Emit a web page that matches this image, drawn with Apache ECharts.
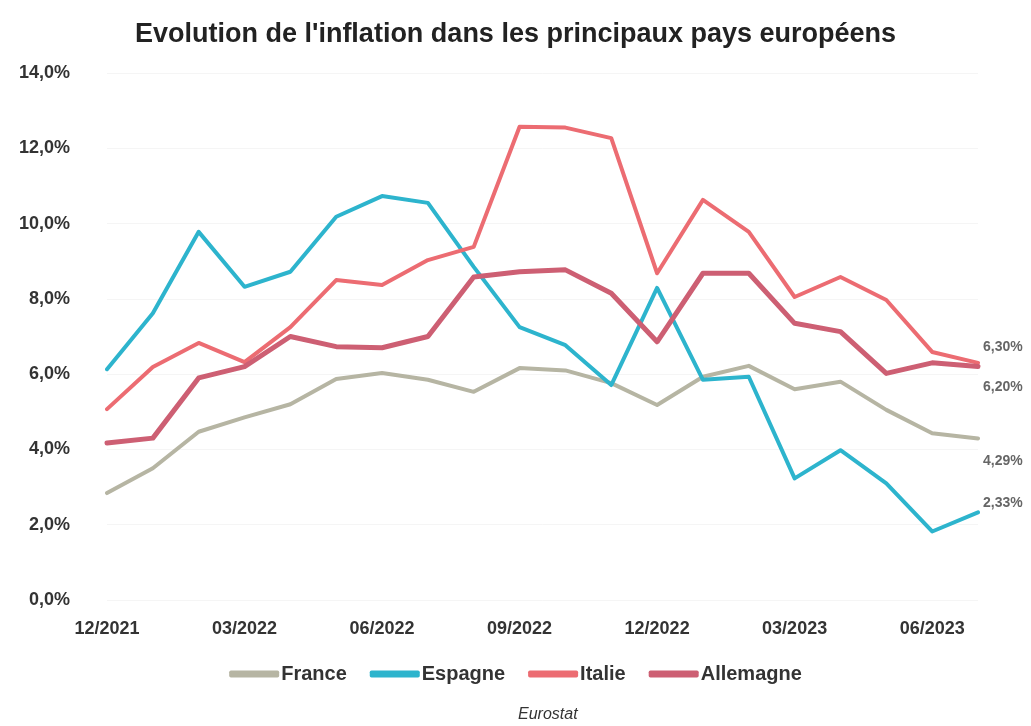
<!DOCTYPE html>
<html>
<head>
<meta charset="utf-8">
<script src="https://cdn.jsdelivr.net/npm/echarts@6/dist/echarts.min.js"></script>
<style>
html,body{margin:0;padding:0;background:#fff;}
#chart{width:1031px;height:726px;}
</style>
</head>
<body>
<div id="chart"></div>
<script>
const months = ['12/2021','01/2022','02/2022','03/2022','04/2022','05/2022','06/2022','07/2022','08/2022','09/2022','10/2022','11/2022','12/2022','01/2023','02/2023','03/2023','04/2023','05/2023','06/2023','07/2023'];
const france = [2.84, 3.5, 4.47, 4.85, 5.2, 5.87, 6.03, 5.85, 5.53, 6.16, 6.1, 5.76, 5.18, 5.93, 6.22, 5.6, 5.8, 5.05, 4.43, 4.29];
const espagne = [6.13, 7.62, 9.78, 8.32, 8.72, 10.18, 10.73, 10.55, 8.85, 7.25, 6.77, 5.71, 8.29, 5.85, 5.93, 3.23, 3.98, 3.1, 1.82, 2.33];
const italie = [5.07, 6.19, 6.83, 6.32, 7.25, 8.5, 8.37, 9.03, 9.38, 12.57, 12.55, 12.27, 8.68, 10.63, 9.78, 8.05, 8.58, 7.97, 6.59, 6.3];
const allemagne = [4.17, 4.3, 5.9, 6.2, 7.0, 6.73, 6.7, 7.0, 8.58, 8.72, 8.77, 8.15, 6.86, 8.68, 8.68, 7.35, 7.13, 6.02, 6.3, 6.2];
const yTicks = [0, 2, 4, 6, 8, 10, 12, 14];

const fmt = v => v.toFixed(2).replace('.', ',') + '%';
function mk(name, data, color, width, offY) {
  return {
    name, type: 'line', data, symbol: 'none', showSymbol: false,
    lineStyle: { color, width, cap: 'round', join: 'round' },
    itemStyle: { color },
    endLabel: {
      show: true, distance: 5, offset: [0, offY],
      formatter: p => fmt(p.value),
      fontFamily: 'Liberation Sans', fontWeight: 'bold', fontSize: 14, color: '#666'
    },
    emphasis: { disabled: true }, z: 2
  };
}
const chart = echarts.init(document.getElementById('chart'));
chart.setOption({
  animation: false,
  backgroundColor: '#ffffff',
  title: {
    text: "Evolution de l'inflation dans les principaux pays européens",
    left: 'center', top: 16,
    textStyle: { fontFamily: 'Liberation Sans', fontWeight: 'bold', fontSize: 27, color: '#222' }
  },
  graphic: [{
    type: 'text', left: 518, top: 707,
    style: { text: 'Eurostat', fontFamily: 'Liberation Sans', fontStyle: 'italic', fontSize: 16, fill: '#333' }
  }],
  legend: {
    top: 659, left: 'center',
    itemWidth: 50, itemHeight: 7, itemGap: 23,
    icon: 'roundRect',
    textStyle: { fontFamily: 'Liberation Sans', fontWeight: 'bold', fontSize: 20, color: '#333', padding: [0, 0, 0, -3] },
    data: ['France', 'Espagne', 'Italie', 'Allemagne']
  },
  grid: { left: 107, right: 53, top: 73, bottom: 126, containLabel: false },
  xAxis: {
    type: 'category', data: months, boundaryGap: false,
    axisLine: { show: false }, axisTick: { show: false },
    axisLabel: {
      interval: 2, margin: 20,
      fontFamily: 'Liberation Sans', fontWeight: 'bold', fontSize: 18, color: '#333'
    },
    splitLine: { show: false }
  },
  yAxis: {
    type: 'value', min: 0, max: 14, interval: 2,
    axisLine: { show: false }, axisTick: { show: false },
    axisLabel: {
      margin: 37,
      formatter: v => yTicks.includes(v) ? v.toFixed(1).replace('.', ',') + '%' : '',
      fontFamily: 'Liberation Sans', fontWeight: 'bold', fontSize: 18, color: '#333'
    },
    splitLine: { lineStyle: { color: '#f5f5f5', width: 1 } }
  },
  series: [
    mk('France', france, '#b6b5a3', 4, 23),
    mk('Espagne', espagne, '#2db4cd', 4, -9),
    mk('Italie', italie, '#ec6c72', 4, -16),
    mk('Allemagne', allemagne, '#cd5f73', 5, 21)
  ]
});
</script>
</body>
</html>
